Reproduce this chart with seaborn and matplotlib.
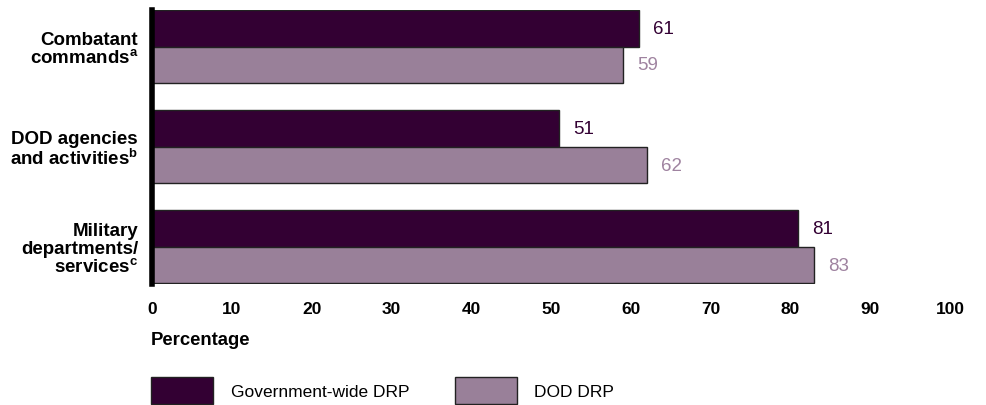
import matplotlib
matplotlib.use("Agg")
import matplotlib.pyplot as plt
import seaborn as sns
import pandas as pd

categories = ["Combatant\ncommands$^{\\mathbf{a}}$",
              "DOD agencies\nand activities$^{\\mathbf{b}}$",
              "Military\ndepartments/\nservices$^{\\mathbf{c}}$"]
series_names = ["Government-wide DRP", "DOD DRP"]
gov_values = [61, 51, 81]
dod_values = [59, 62, 83]
x_ticks = [0, 10, 20, 30, 40, 50, 60, 70, 80, 90, 100]

colors = ["#330033", "#998099"]
label_colors = ["#330033", "#9F83A0"]

sns.set_theme(style="white")
plt.rcParams["font.family"] = ["Liberation Sans", "DejaVu Sans"]
plt.rcParams["mathtext.fontset"] = "custom"
plt.rcParams["mathtext.bf"] = "Liberation Sans:bold"
plt.rcParams["mathtext.rm"] = "Liberation Sans"
plt.rcParams["text.color"] = "black"
plt.rcParams["xtick.color"] = "black"
plt.rcParams["ytick.color"] = "black"

df = pd.DataFrame({
    "category": categories * 2,
    "series": [series_names[0]] * 3 + [series_names[1]] * 3,
    "value": gov_values + dod_values,
})

fig = plt.figure(figsize=(9.87, 4.06), dpi=100)
ax = fig.add_axes([152 / 987, 1 - 285 / 406, (950 - 152) / 987, (285 - 11) / 406])

sns.barplot(data=df, y="category", x="value", hue="series", orient="h",
            palette=colors, width=0.73, edgecolor="#222222", linewidth=1.0,
            saturation=1, ax=ax, legend=True)

for cont, col in zip(ax.containers, label_colors):
    ax.bar_label(cont, padding=10, color=col, fontsize=13.5)

ax.set_xlim(0, 100)
ax.set_ylim(2.37, -0.365)
ax.set_xticks(x_ticks)
ax.set_xticklabels([str(t) for t in x_ticks], fontsize=12.5, fontweight="bold")
ax.tick_params(axis="x", length=0, pad=12)
ax.tick_params(axis="y", length=0, pad=10)
for lab in ax.get_yticklabels():
    lab.set_fontweight("bold")
    lab.set_fontsize(13.5)
    lab.set_linespacing(1.05)
    lab.set_horizontalalignment("right")
    lab.set_multialignment("right")
ax.set_ylabel("")
ax.set_xlabel("")
for s in ["top", "right", "bottom"]:
    ax.spines[s].set_visible(False)
ax.spines["left"].set_linewidth(4)
ax.spines["left"].set_color("black")

fig.text(151 / 987, 1 - 341 / 406, "Percentage", fontsize=13.3, fontweight="bold",
         va="center", ha="left")

handles, labels = ax.get_legend_handles_labels()
ax.get_legend().remove()
fig.legend(handles, labels, loc="upper left", bbox_to_anchor=(151 / 987, 1 - 378 / 406),
           ncol=2, frameon=False, fontsize=12.5, handlelength=3.6, handleheight=2.0,
           handletextpad=1.0, columnspacing=2.6, borderaxespad=0, borderpad=0)

fig.savefig("out.png", dpi=100)
